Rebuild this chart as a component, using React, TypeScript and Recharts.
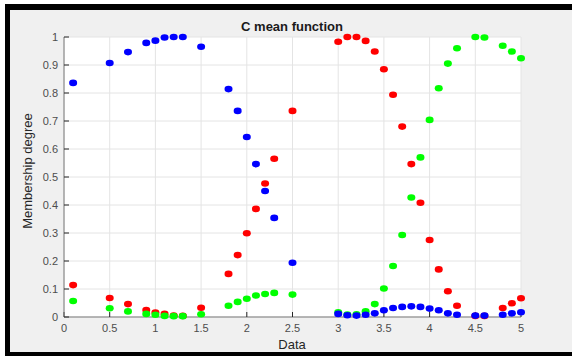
import React from "react";
import {
  ScatterChart,
  Scatter,
  XAxis,
  YAxis,
  CartesianGrid,
} from "recharts";

const dataX = [
  0.1, 0.5, 0.7, 0.9, 1, 1.1, 1.2, 1.3, 1.5, 1.8, 1.9, 2, 2.1, 2.2, 2.3, 2.5,
  3, 3.1, 3.2, 3.3, 3.4, 3.5, 3.6, 3.7, 3.8, 3.9, 4, 4.1, 4.2, 4.3, 4.5, 4.6,
  4.8, 4.9, 5,
];

const blueY = [
  0.836, 0.907, 0.946, 0.979, 0.987, 0.998, 1.0, 1.0, 0.965, 0.814, 0.736,
  0.643, 0.546, 0.45, 0.354, 0.194, 0.011, 0.006, 0.005, 0.008, 0.013, 0.024,
  0.032, 0.036, 0.038, 0.036, 0.03, 0.024, 0.013, 0.008, 0.005, 0.005, 0.008,
  0.013, 0.017,
];

const redY = [
  0.114, 0.068, 0.046, 0.025, 0.016, 0.011, 0.005, 0.004, 0.033, 0.154, 0.221,
  0.299, 0.386, 0.477, 0.565, 0.736, 0.983, 1.0, 1.0, 0.986, 0.948, 0.885,
  0.794, 0.68, 0.546, 0.408, 0.275, 0.17, 0.092, 0.04, 0.004, 0.004, 0.032,
  0.049, 0.067,
];

const greenY = [
  0.057, 0.031, 0.02, 0.011, 0.008, 0.004, 0.003, 0.003, 0.01, 0.04, 0.054,
  0.065, 0.077, 0.082, 0.086, 0.08, 0.017, 0.009, 0.01, 0.02, 0.046, 0.102,
  0.182, 0.293, 0.427, 0.57, 0.704, 0.817, 0.905, 0.96, 1.0, 0.998, 0.969,
  0.948, 0.924,
];

const xTicks = [0, 0.5, 1, 1.5, 2, 2.5, 3, 3.5, 4, 4.5, 5];
const yTicks = [0, 0.1, 0.2, 0.3, 0.4, 0.5, 0.6, 0.7, 0.8, 0.9, 1];

const toPoints = (ys: number[]) => dataX.map((x, i) => ({ x, y: ys[i] }));

const FONT = '"Liberation Sans", Arial, Helvetica, sans-serif';

function dot(color: string) {
  return (props: any) => (
    <ellipse cx={props.cx} cy={props.cy} rx={4} ry={3.3} fill={color} />
  );
}

export default function App() {
  const tickStyle = { fontSize: 11, fill: "#4d4d4d", fontFamily: FONT };
  return (
    <div
      style={{
        position: "fixed",
        left: 0,
        top: 0,
        width: 572,
        height: 356,
        background: "#fff",
        fontFamily: FONT,
      }}
    >
      <div
        style={{
          position: "absolute",
          left: 5,
          top: 4,
          right: 0,
          bottom: 0,
          boxSizing: "border-box",
          borderTop: "6px solid #000",
          borderLeft: "5px solid #000",
          borderBottom: "4px solid #000",
          background: "#f0f0f0",
        }}
      />
      <div style={{ position: "absolute", left: 0, top: 0 }}>
        <ScatterChart
          width={572}
          height={356}
          margin={{ top: 37, right: 51, bottom: 0, left: 0 }}
        >
          <CartesianGrid stroke="#e4e4e4" fill="#ffffff" fillOpacity={1} />
          <XAxis
            type="number"
            dataKey="x"
            domain={[0, 5]}
            ticks={xTicks}
            height={39}
            tickSize={-5}
            tickMargin={12}
            tick={tickStyle}
            axisLine={{ stroke: "#7a7a7a" }}
            tickLine={{ stroke: "#262626" }}
            interval={0}
          />
          <XAxis
            xAxisId="top"
            orientation="top"
            type="number"
            domain={[0, 5]}
            ticks={xTicks}
            height={0}
            tickSize={-5}
            tick={false}
            axisLine={{ stroke: "#5a5a5a" }}
            tickLine={{ stroke: "#262626" }}
            interval={0}
          />
          <YAxis
            type="number"
            dataKey="y"
            domain={[0, 1]}
            ticks={yTicks}
            width={64}
            tickSize={-5}
            tickMargin={11}
            tick={tickStyle}
            axisLine={{ stroke: "#7a7a7a" }}
            tickLine={{ stroke: "#262626" }}
            interval={0}
          />
          <YAxis
            yAxisId="right"
            orientation="right"
            type="number"
            domain={[0, 1]}
            ticks={yTicks}
            width={0}
            tickSize={-5}
            tick={false}
            axisLine={{ stroke: "#d6d6d6" }}
            tickLine={{ stroke: "#262626" }}
            interval={0}
          />
          <Scatter
            name="red"
            data={toPoints(redY)}
            shape={dot("#ff0000")}
            isAnimationActive={false}
          />
          <Scatter
            name="green"
            data={toPoints(greenY)}
            shape={dot("#00ff00")}
            isAnimationActive={false}
          />
          <Scatter
            name="blue"
            data={toPoints(blueY)}
            shape={dot("#0000ff")}
            isAnimationActive={false}
          />
        </ScatterChart>
      </div>
      <div
        style={{
          position: "absolute",
          left: 292,
          top: 26,
          transform: "translate(-50%, -50%)",
          fontSize: 13,
          fontWeight: "bold",
          color: "#1a1a1a",
          whiteSpace: "nowrap",
        }}
      >
        C mean function
      </div>
      <div
        style={{
          position: "absolute",
          left: 292,
          top: 344,
          transform: "translate(-50%, -50%)",
          fontSize: 13,
          color: "#262626",
          whiteSpace: "nowrap",
        }}
      >
        Data
      </div>
      <div
        style={{
          position: "absolute",
          left: 27,
          top: 171,
          transform: "translate(-50%, -50%) rotate(-90deg)",
          fontSize: 13,
          color: "#262626",
          whiteSpace: "nowrap",
        }}
      >
        Membership degree
      </div>
    </div>
  );
}
